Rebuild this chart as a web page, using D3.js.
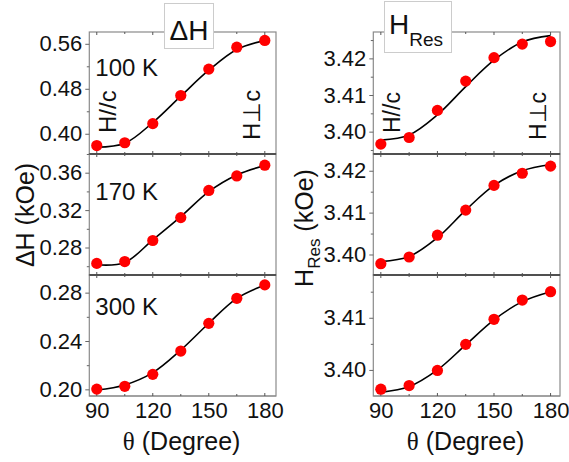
<!DOCTYPE html>
<html>
<head>
<meta charset="utf-8">
<script src="https://cdn.jsdelivr.net/npm/d3@7"></script>
<style>
  body { margin: 0; background: #fff; }
  svg { font-family: "Liberation Sans", Arial, sans-serif; }
</style>
</head>
<body>
<div id="chart"></div>
<script>
// angles (degree)
var angles = [90, 105, 120, 135, 150, 165, 180];
var xTicks = [90, 120, 150, 180];

// linewidth dH (kOe), measured points and fitted curve
var dH100 = [0.379, 0.384, 0.418, 0.468, 0.515, 0.554, 0.566];
var dH170 = [0.263, 0.265, 0.2875, 0.312, 0.341, 0.3565, 0.368];
var dH300 = [0.2002, 0.2025, 0.2124, 0.2317, 0.2546, 0.2753, 0.2864];
var dH100fit = [0.376, 0.383, 0.420, 0.467, 0.513, 0.550, 0.566];
var dH170fit = [0.2615, 0.264, 0.2882, 0.313, 0.3398, 0.3576, 0.3677];
var dH300fit = [0.1994, 0.2036, 0.2138, 0.2325, 0.2547, 0.2753, 0.2864];

// resonance field H_Res (kOe)
var hr100 = [3.3966, 3.3984, 3.4058, 3.4138, 3.4202, 3.4239, 3.4246];
var hr170 = [3.3978, 3.3994, 3.4046, 3.4106, 3.4165, 3.4194, 3.4211];
var hr300 = [3.3963, 3.3970, 3.3999, 3.4049, 3.4097, 3.4134, 3.4150];
var hr100fit = [3.3977, 3.3991, 3.4046, 3.4123, 3.4195, 3.4245, 3.4262];
var hr170fit = [3.3983, 3.3995, 3.4040, 3.4106, 3.4165, 3.4200, 3.4215];
var hr300fit = [3.3957, 3.3968, 3.4000, 3.4048, 3.4096, 3.4131, 3.4150];

// y ticks of each panel
var dHTicks = [[0.40, 0.48, 0.56], [0.28, 0.32, 0.36], [0.20, 0.24, 0.28]];
var hrTicks = [[3.40, 3.41, 3.42], [3.40, 3.41, 3.42], [3.40, 3.41]];
var temps = ["100 K", "170 K", "300 K"];

var width = 569, height = 462;
var rows = [32, 154, 275, 396];

var svg = d3.select("#chart").append("svg")
    .attr("width", width)
    .attr("height", height);

var columns = [
    {
        left: 89.3, right: 276, xDomain: [86, 186],
        values: [dH100, dH170, dH300],
        fits: [dH100fit, dH170fit, dH300fit],
        yDomains: [[0.364, 0.581], [0.2506, 0.380], [0.1945, 0.2946]],
        ticks: dHTicks, fmt: d3.format(".2f"),
        labelFont: 24
    },
    {
        left: 373.3, right: 560, xDomain: [86, 185],
        values: [hr100, hr170, hr300],
        fits: [hr100fit, hr170fit, hr300fit],
        yDomains: [[3.3939, 3.4272], [3.3951, 3.424], [3.3950, 3.4182]],
        ticks: hrTicks, fmt: d3.format(".2f"),
        labelFont: 23
    }
];

columns.forEach(function(col, ci) {
    var xScale = d3.scaleLinear().domain(col.xDomain).range([col.left, col.right]);

    col.values.forEach(function(vals, ri) {
        var top = rows[ri], bottom = rows[ri + 1];
        var yScale = d3.scaleLinear().domain(col.yDomains[ri]).range([bottom, top]);
        var g = svg.append("g");

        // frame
        g.append("rect")
            .attr("x", col.left).attr("y", top)
            .attr("width", col.right - col.left).attr("height", bottom - top)
            .attr("fill", "none").attr("stroke", "#8a8a8a").attr("stroke-width", 1.2);
        g.append("line")
            .attr("x1", col.left).attr("x2", col.right)
            .attr("y1", bottom).attr("y2", bottom)
            .attr("stroke", ri < 2 ? "#222" : "#8a8a8a").attr("stroke-width", 1.2);
        if (ri > 0) {
            g.append("line")
                .attr("x1", col.left).attr("x2", col.right)
                .attr("y1", top).attr("y2", top)
                .attr("stroke", "#222").attr("stroke-width", 1.2);
        }

        // y axis, outward ticks
        var step = col.ticks[ri][1] - col.ticks[ri][0];
        var minor = d3.range(col.ticks[ri][0] - step / 2, col.ticks[ri][col.ticks[ri].length - 1] + step, step)
            .filter(function(v) { return v > col.yDomains[ri][0] && v < col.yDomains[ri][1]; });
        var yAxis = g.append("g")
            .attr("transform", "translate(" + col.left + ",0)")
            .call(d3.axisLeft(yScale).tickValues(col.ticks[ri]).tickFormat(col.fmt)
                .tickSize(4).tickPadding(3));
        yAxis.select(".domain").remove();
        yAxis.selectAll("line").attr("stroke", "#666");
        yAxis.selectAll("text")
            .style("font-size", "22px").attr("fill", "#111");
        g.append("g")
            .attr("transform", "translate(" + col.left + ",0)")
            .call(d3.axisLeft(yScale).tickValues(minor).tickFormat("").tickSize(2.5))
            .call(function(s) { s.select(".domain").remove(); s.selectAll("line").attr("stroke", "#666"); });

        // x ticks on the panel edges, pointing inside
        var xt = d3.range(90, 181, 15);
        g.selectAll(".xtb").data(xt).enter().append("line")
            .attr("x1", xScale).attr("x2", xScale)
            .attr("y1", bottom).attr("y2", function(d) { return bottom - (d % 30 === 0 ? 3 : 2); })
            .attr("stroke", "#555");
        g.selectAll(".xtt").data(xt).enter().append("line")
            .attr("x1", xScale).attr("x2", xScale)
            .attr("y1", top).attr("y2", function(d) { return top + (d % 30 === 0 ? 3 : 2); })
            .attr("stroke", "#555");

        if (ri === 2) {
            var xAxis = g.append("g")
                .attr("transform", "translate(0," + bottom + ")")
                .call(d3.axisBottom(xScale).tickValues(xTicks).tickSize(0).tickPadding(6));
            xAxis.select(".domain").remove();
            xAxis.selectAll("text").style("font-size", "22px").attr("fill", "#111");
        }

        // fitted curve
        var line = d3.line()
            .x(function(d, i) { return xScale(angles[i]); })
            .y(function(d) { return yScale(d); })
            .curve(d3.curveCatmullRom.alpha(0.5));
        g.append("path")
            .datum(col.fits[ri])
            .attr("d", line)
            .attr("fill", "none").attr("stroke", "#000").attr("stroke-width", 1.6);

        // data points
        g.selectAll(".point").data(vals).enter().append("circle")
            .attr("class", "point")
            .attr("cx", function(d, i) { return xScale(angles[i]); })
            .attr("cy", yScale)
            .attr("r", 5.6)
            .attr("fill", "#ff0000");

        // temperature label in left column
        if (ci === 0) {
            g.append("text")
                .attr("x", col.left + 6).attr("y", top + [43.5, 45.5, 40][ri])
                .style("font-size", "24px").attr("fill", "#111")
                .text(temps[ri]);
        }

        // field orientation labels in top row
        if (ri === 0) {
            g.append("text")
                .attr("transform", "translate(" + (xScale(90) + 19) + "," + (bottom - 21) + ") rotate(-90)")
                .style("font-size", col.labelFont + "px").attr("fill", "#111")
                .text("H//c");
            g.append("text")
                .attr("transform", "translate(" + (xScale(180) - 5) + "," + (bottom - 14) + ") rotate(-90)")
                .style("font-size", col.labelFont + "px").attr("fill", "#111")
                .text("H\u22a5c");
        }
    });

    // x axis title
    var xt = svg.append("text")
        .attr("x", (col.left + col.right) / 2 - 1).attr("y", 450)
        .attr("text-anchor", "middle")
        .style("font-size", "25px").attr("fill", "#111");
    xt.append("tspan").style("font-family", "'Liberation Serif', serif").text("\u03b8");
    xt.append("tspan").text(" (Degree)");
});

// y axis titles
svg.append("text")
    .attr("transform", "translate(34,215) rotate(-90)")
    .attr("text-anchor", "middle")
    .style("font-size", "25px").attr("fill", "#111")
    .text("\u0394H (kOe)");

var hy = svg.append("text")
    .attr("transform", "translate(313,228) rotate(-90)")
    .attr("text-anchor", "middle")
    .style("font-size", "25px").attr("fill", "#111");
hy.append("tspan").text("H");
hy.append("tspan").attr("dy", 7).style("font-size", "17px").text("Res");
hy.append("tspan").attr("dy", -7).text(" (kOe)");

// titles in boxes
svg.append("rect")
    .attr("x", 164.5).attr("y", 3.5).attr("width", 49).attr("height", 45)
    .attr("fill", "#fff").attr("stroke", "#ccc");
svg.append("text")
    .attr("x", 189).attr("y", 39.5).attr("text-anchor", "middle")
    .style("font-size", "28px").attr("fill", "#111")
    .text("\u0394H");

svg.append("rect")
    .attr("x", 384.5).attr("y", 1.5).attr("width", 67).attr("height", 51)
    .attr("fill", "#fff").attr("stroke", "#ccc");
var ht = svg.append("text")
    .attr("x", 389).attr("y", 33.5)
    .style("font-size", "28px").attr("fill", "#111");
ht.append("tspan").text("H");
ht.append("tspan").attr("dy", 12).style("font-size", "19px").text("Res");
</script>
</body>
</html>
